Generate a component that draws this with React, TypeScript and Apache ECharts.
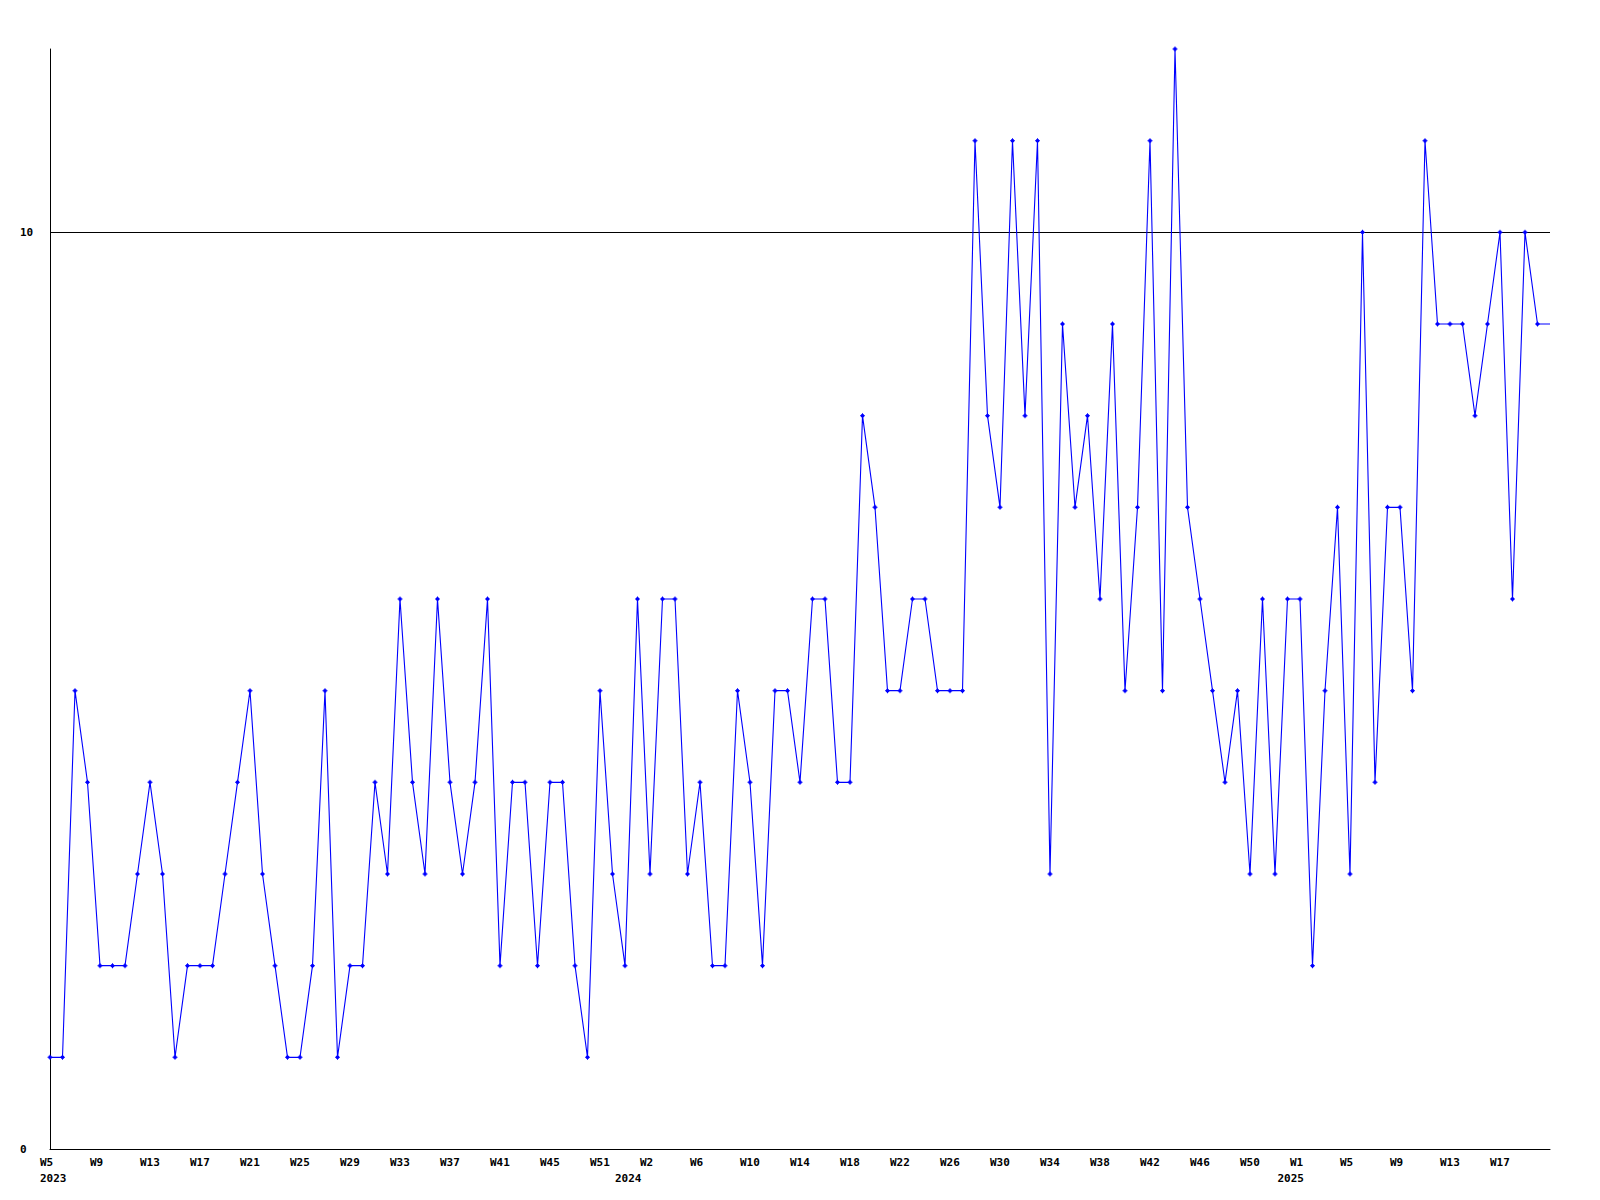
import React, { useEffect, useRef } from "react";
import * as echarts from "echarts";

// Week categories (year-week), one per data point
const weeks2023 = [
  "W5","W6","W7","W8","W9","W10","W11","W12","W13","W14","W15","W16","W17","W18","W19","W20",
  "W21","W22","W23","W24","W25","W26","W27","W28","W29","W30","W31","W32","W33","W34","W35","W36",
  "W37","W38","W39","W40","W41","W42","W43","W44","W45","W46","W48","W50","W51","W52",
];
const weeks2024 = [
  "W0","W1","W2","W3","W4","W5","W6","W7","W8","W9","W10","W11","W12","W13","W14","W15","W16",
  "W17","W18","W19","W20","W21","W22","W23","W24","W25","W26","W27","W28","W29","W30","W31","W32",
  "W33","W34","W35","W36","W37","W38","W39","W40","W41","W42","W43","W44","W45","W46","W47","W48",
  "W49","W50","W51","W52",
];
const weeks2025 = [
  "W0","W1","W2","W3","W4","W5","W6","W7","W8","W9","W10","W11","W12","W13","W14","W15","W16",
  "W17","W18","W19","W20","W21",
];

const values = [
  1, 1, 5, 4, 2, 2, 2, 3, 4, 3,
  1, 2, 2, 2, 3, 4, 5, 3, 2, 1,
  1, 2, 5, 1, 2, 2, 4, 3, 6, 4,
  3, 6, 4, 3, 4, 6, 2, 4, 4, 2,
  4, 4, 2, 1, 5, 3, 2, 6, 3, 6,
  6, 3, 4, 2, 2, 5, 4, 2, 5, 5,
  4, 6, 6, 4, 4, 8, 7, 5, 5, 6,
  6, 5, 5, 5, 11, 8, 7, 11, 8, 11,
  3, 9, 7, 8, 6, 9, 5, 7, 11, 5,
  12, 7, 6, 5, 4, 5, 3, 6, 3, 6,
  6, 2, 5, 7, 3, 10, 4, 7, 7, 5,
  11, 9, 9, 9, 8, 9, 10, 6, 10, 9,
  9,
];

const yTicks = [0, 10];
const threshold = 10;
const yMax = 12;

const categories = [
  ...weeks2023.map((w) => "2023-" + w),
  ...weeks2024.map((w) => "2024-" + w),
  ...weeks2025.map((w) => "2025-" + w),
];

export default function App() {
  const ref = useRef<HTMLDivElement>(null);

  useEffect(() => {
    if (!ref.current) return;
    const chart = echarts.init(ref.current, undefined, { renderer: "svg" });
    const lastIdx = categories.length - 1;
    const yearStarts: number[] = [];
    categories.forEach((c, i) => {
      if (i === 0 || categories[i - 1].split("-")[0] !== c.split("-")[0]) yearStarts.push(i);
    });
    const font = {
      fontFamily: "DejaVu Sans Mono",
      fontWeight: "bold" as const,
      fontSize: 11,
      color: "#000",
    };
    const plus = "path://M2,0H3V1H4V2H5V3H4V4H3V5H2V4H1V3H0V2H1V1H2Z";

    chart.setOption({
      animation: false,
      backgroundColor: "#fff",
      grid: { left: 50, right: 50, top: 49, bottom: 51, containLabel: false },
      xAxis: [
        {
          type: "category",
          data: categories,
          boundaryGap: false,
          axisLine: { show: true, lineStyle: { color: "#000", width: 1 } },
          axisTick: { show: false },
          splitLine: { show: false },
          axisLabel: {
            ...font,
            margin: 8,
            align: "left",
            padding: [0, 0, 0, -10],
            interval: (idx: number) => idx % 4 === 0 && idx < lastIdx,
            formatter: (v: string) => v.split("-")[1],
          },
        },
        {
          type: "category",
          data: categories,
          boundaryGap: false,
          position: "bottom",
          offset: 16,
          axisLine: { show: false },
          axisTick: { show: false },
          splitLine: { show: false },
          axisLabel: {
            ...font,
            margin: 8,
            align: "left",
            padding: [0, 0, 0, -10],
            interval: (idx: number) => yearStarts.includes(idx),
            formatter: (v: string) => v.split("-")[0],
          },
        },
      ],
      yAxis: {
        type: "value",
        min: 0,
        max: yMax,
        interval: yTicks[1] - yTicks[0],
        axisLine: { show: true, lineStyle: { color: "#000", width: 1 } },
        axisTick: { show: false },
        splitLine: { show: false },
        axisLabel: {
          ...font,
          margin: 30,
          align: "left",
          showMaxLabel: false,
          formatter: (v: number) => (yTicks.includes(v) ? String(v) : ""),
        },
      },
      series: [
        {
          type: "line",
          data: values.map((v, i) =>
            i === lastIdx ? { value: v, symbol: "none" } : v
          ),
          symbol: plus,
          symbolSize: 5,
          showSymbol: true,
          lineStyle: { color: "#0000ff", width: 1.1 },
          itemStyle: { color: "#0000ff" },
          markLine: {
            silent: true,
            symbol: "none",
            label: { show: false },
            lineStyle: { color: "#000", width: 1, type: "solid" },
            data: [{ yAxis: threshold }],
            z: 1,
          },
        },
      ],
    });
    return () => chart.dispose();
  }, []);

  return (
    <div
      ref={ref}
      style={{ position: "absolute", left: 0, top: 0, width: 1600, height: 1200 }}
    />
  );
}
